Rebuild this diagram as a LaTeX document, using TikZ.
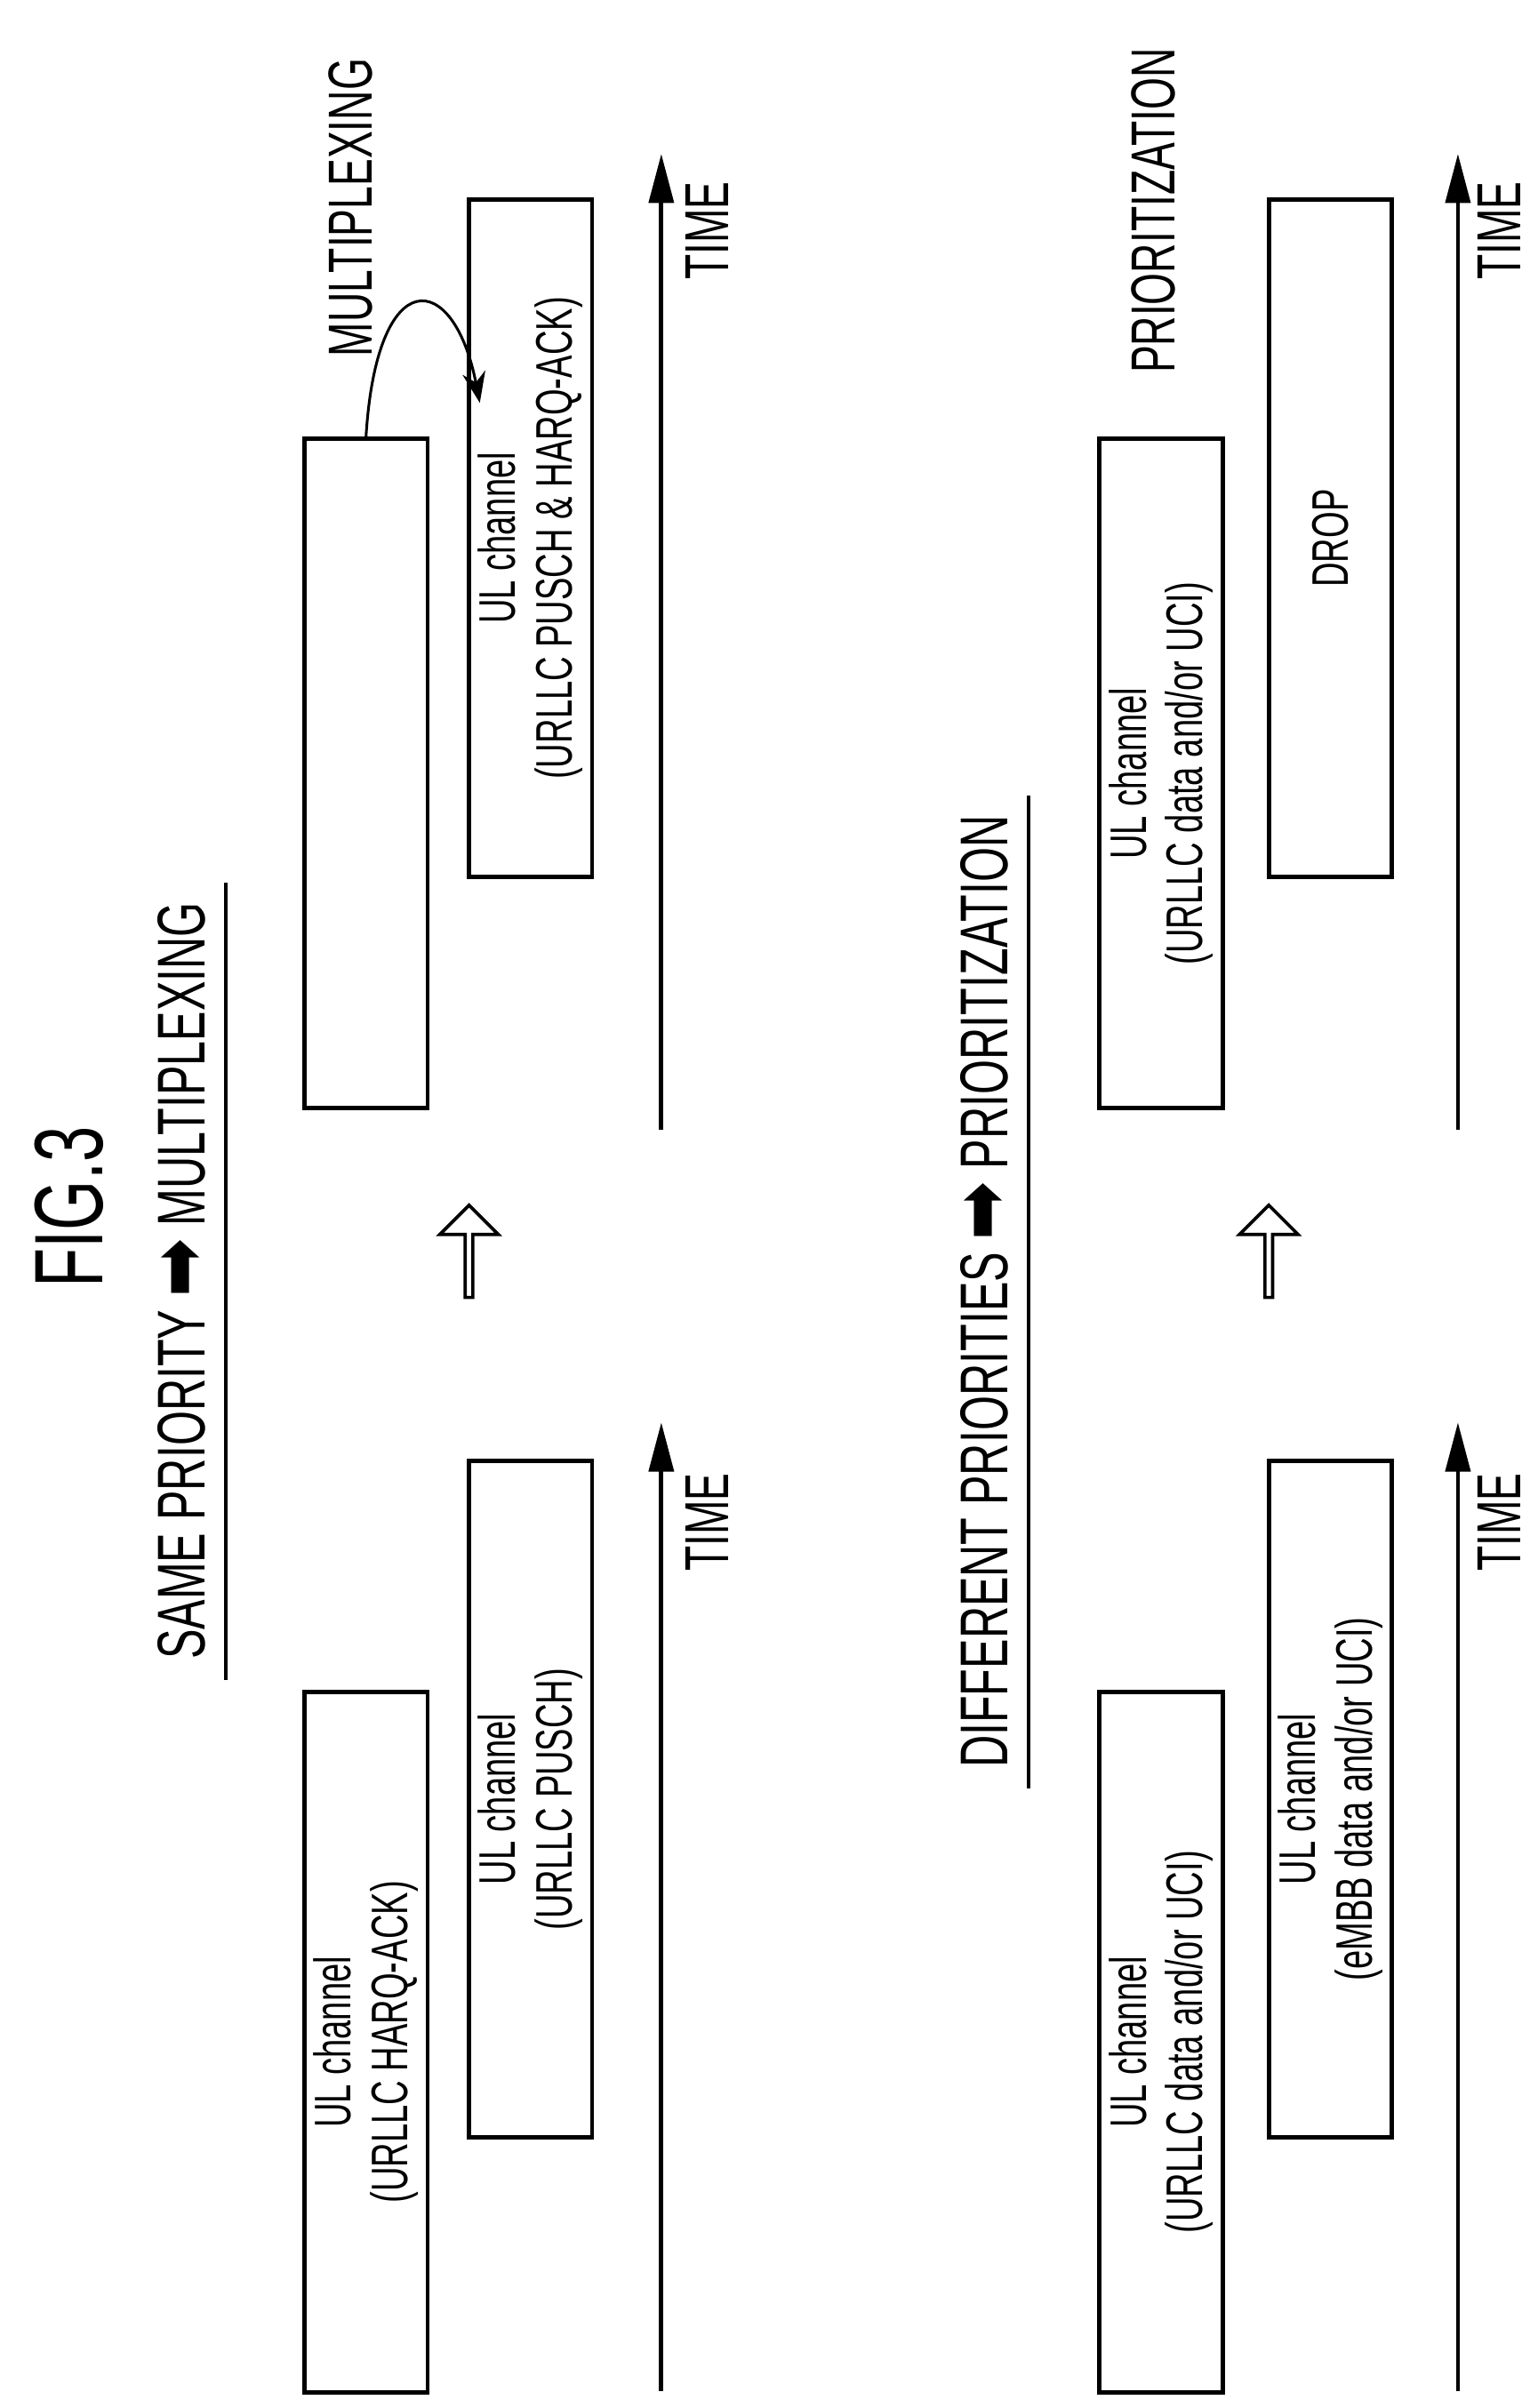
\documentclass[tikz,border=0pt]{standalone}
\usepackage{fontspec}
\setmainfont{Liberation Sans}[FakeStretch=0.66]
\newfontfamily\symfont{DejaVu Sans}[FakeStretch=0.9]
\usetikzlibrary{arrows.meta, shapes.arrows}

\begin{document}
\begin{tikzpicture}[
    x=0.01cm, y=-0.01cm,
    line width=0.8pt,
    chan/.style={draw, rectangle, rotate=90, minimum height=0.8cm,
        align=center, font=\fontsize{9.5}{10.5}\selectfont, inner sep=0pt},
    lab/.style={rotate=90, font=\fontsize{11.5}{12}\selectfont},
    ttl/.style={rotate=90, font=\fontsize{12.5}{14}\selectfont},
    axis/.style={-{Triangle[length=3.2mm, width=1.6mm]}},
    blk/.style={draw, single arrow, shape border rotate=90, minimum height=0.6cm,
        minimum width=0.38cm, single arrow head extend=0.07cm, line width=0.6pt, inner sep=0pt},
  ]
  \useasboundingbox (0,0) rectangle (1000,1566);

  \node[rotate=90, font=\fontsize{18}{20}\selectfont] (fig) at (45,785) {FIG.3};

  % same priority
  \node[ttl] (t1) at (118,833) {SAME PRIORITY {\symfont\Large ➡} MULTIPLEXING};
  \draw[line width=0.6pt] (t1.south west) -- (t1.south east);

  \node[chan, minimum width=4.55cm] (a1) at (238,1328) {UL channel\\(URLLC HARQ-ACK)};
  \node[chan, minimum width=4.4cm] (a2) at (345,1170) {UL channel\\(URLLC PUSCH)};
  \coordinate (ax0) at (430,1555);
  \coordinate (ax1) at (430,925);
  \draw[axis] (ax0) -- (ax1);
  \node[lab] (tm1) at (460,990) {TIME};

  \node[blk] (up1) at (305,815) {};

  \node[chan, minimum width=4.35cm] (b1) at (238,503) {};
  \node[chan, minimum width=4.4cm] (b2) at (345,350) {UL channel\\(URLLC PUSCH \& HARQ-ACK)};
  \coordinate (bx0) at (430,735);
  \coordinate (bx1) at (430,100);
  \draw[axis] (bx0) -- (bx1);
  \node[lab] (tm2) at (460,150) {TIME};
  \node[lab] (mux) at (228,135) {MULTIPLEXING};
  \coordinate (muxend) at (312,262);
  \draw[line width=0.5pt, -{Stealth[length=2mm, width=1.5mm]}]
    (b1.east) .. controls (245,170) and (295,175) .. (muxend);

  % different priorities
  \node[ttl] (t2) at (640,840) {DIFFERENT PRIORITIES {\symfont\Large ➡} PRIORITIZATION};
  \draw[line width=0.6pt] (t2.south west) -- (t2.south east);

  \node[chan, minimum width=4.55cm] (c1) at (755,1328) {UL channel\\(URLLC data and/or UCI)};
  \node[chan, minimum width=4.4cm] (c2) at (865,1170) {UL channel\\(eMBB data and/or UCI)};
  \coordinate (cx0) at (948,1555);
  \coordinate (cx1) at (948,925);
  \draw[axis] (cx0) -- (cx1);
  \node[lab] (tm3) at (975,990) {TIME};

  \node[blk] (up2) at (825,815) {};

  \node[chan, minimum width=4.35cm] (d1) at (755,503) {UL channel\\(URLLC data and/or UCI)};
  \node[chan, minimum width=4.4cm] (d2) at (865,350) {DROP};
  \coordinate (dx0) at (948,735);
  \coordinate (dx1) at (948,100);
  \draw[axis] (dx0) -- (dx1);
  \node[lab] (tm4) at (975,150) {TIME};
  \node[lab] (pri) at (750,137) {PRIORITIZATION};
\end{tikzpicture}
\end{document}
